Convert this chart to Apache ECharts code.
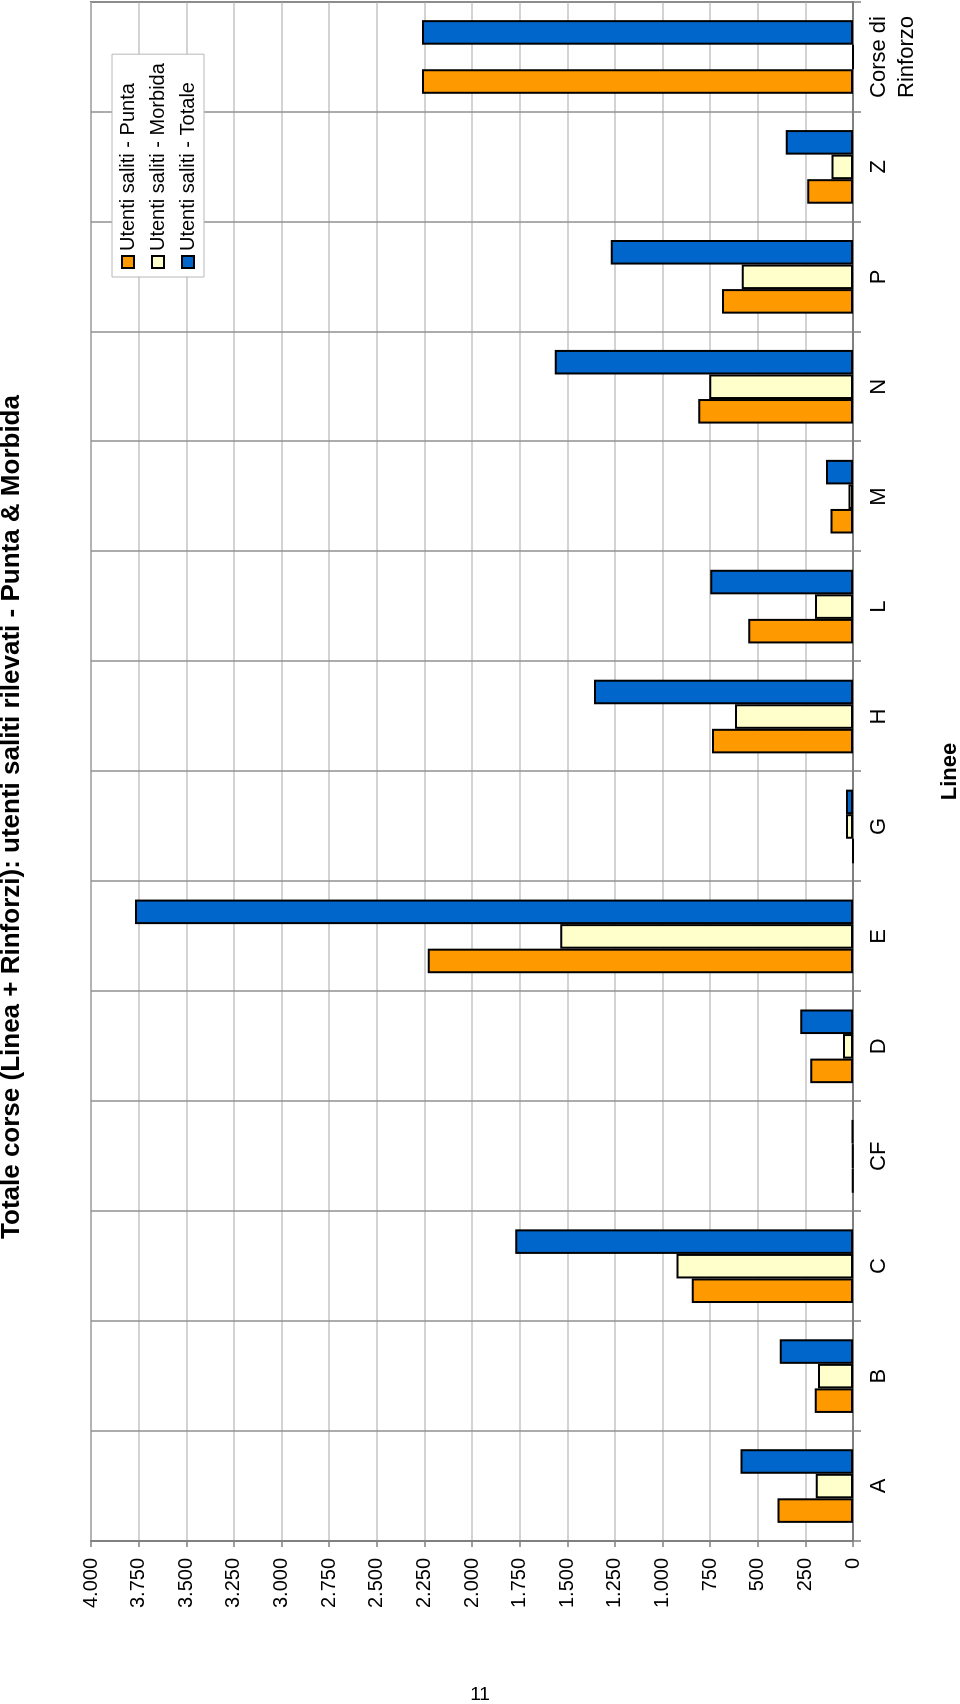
<!DOCTYPE html>
<html><head><meta charset="utf-8">
<script src="https://cdn.jsdelivr.net/npm/echarts@6/dist/echarts.min.js"></script>
<style>
html,body{margin:0;padding:0;background:#fff;width:960px;height:1704px;overflow:hidden}
#chart{position:absolute;left:0;top:0;width:1704px;height:960px;transform-origin:0 0;transform:translateY(1704px) rotate(-90deg);}
</style></head><body><div id="chart"></div>
<script>
const categories = ['A','B','C','CF','D','E','G','H','L','M','N','P','Z','Corse di\nRinforzo'];
const punta   = [396, 201,  847, 3, 224, 2232,  0,  740, 550, 118,  812,  688, 240, 2263];
const morbida = [195, 184,  926, 2,  53, 1537, 37,  620, 200,  24,  754,  584, 113,    0];
const totale  = [591, 385, 1773, 5, 277, 3769, 37, 1360, 750, 142, 1566, 1272, 353, 2263];
const seriesNames = ['Utenti saliti - Punta','Utenti saliti - Morbida','Utenti saliti - Totale'];
const valueTickLabels = ['0','250','500','750','1.000','1.250','1.500','1.750','2.000','2.250','2.500','2.750','3.000','3.250','3.500','3.750','4.000'];
const titleText = 'Totale corse (Linea + Rinforzi): utenti saliti rilevati - Punta & Morbida';
const axisTitle = 'Linee';
const pageNumber = '11';

const FF = '"Liberation Sans", Arial, sans-serif';
const colors = ['#FF9900', '#FFFFCC', '#0066CC'];
const chart = echarts.init(document.getElementById('chart'), null, {renderer: 'canvas', width: 1704, height: 960});
const values = [punta, morbida, totale];

chart.setOption({
  animation: false,
  backgroundColor: '#ffffff',
  grid: {left: 163, right: 2, top: 91, bottom: 107, show: true, borderColor: '#808080', borderWidth: 2, outerBoundsMode: 'none'},
  legend: {
    data: seriesNames, orient: 'vertical', left: 1427, top: 112,
    itemWidth: 12, itemHeight: 12, itemGap: 10, padding: [6, 9, 6, 8],
    backgroundColor: '#ffffff', borderColor: '#b8b8b8', borderWidth: 1,
    icon: 'rect',
    textStyle: {fontSize: 20, lineHeight: 20, color: '#000', fontFamily: FF}
  },
  xAxis: {
    type: 'category', data: categories,
    axisLine: {show: true, lineStyle: {color: '#808080', width: 2}},
    axisTick: {show: true, length: 8, lineStyle: {color: '#808080', width: 1.5}},
    axisLabel: {interval: 0, fontSize: 22, lineHeight: 28, margin: 12, color: '#000', fontFamily: FF},
    splitLine: {show: true, lineStyle: {color: '#909090', width: 1.5}},
    name: axisTitle, nameLocation: 'middle', nameGap: 86, nameMoveOverlap: false,
    nameTextStyle: {fontSize: 22, fontWeight: 'bold', color: '#000', fontFamily: FF}
  },
  yAxis: {
    type: 'value', min: 0, max: 4000, interval: 250,
    axisLine: {show: true, lineStyle: {color: '#808080', width: 2}},
    axisTick: {show: true, length: 6, lineStyle: {color: '#808080', width: 1.5}},
    axisLabel: {fontSize: 20, margin: 17, color: '#000', fontFamily: FF,
      formatter: v => valueTickLabels[Math.round(v / 250)]},
    splitLine: {show: true, lineStyle: {color: '#c4c4c4', width: 1.5}}
  },
  series: seriesNames.map((n, i) => ({
    name: n, type: 'bar', data: values[i],
    barGap: '0%', barCategoryGap: '33%',
    itemStyle: {color: colors[i], borderColor: '#000', borderWidth: 2},
    emphasis: {disabled: true}
  })),
  graphic: [
    {type: 'text', x: 887, y: 12, silent: true,
     style: {text: titleText, fontSize: 26, fontWeight: 'bold', fontFamily: FF, fill: '#000', align: 'center', verticalAlign: 'middle'}},
    {type: 'text', x: 9, y: 480, rotation: -Math.PI / 2, silent: true,
     style: {text: pageNumber, fontSize: 19, fontFamily: FF, fill: '#000', align: 'center', verticalAlign: 'middle'}}
  ]
});
</script></body></html>
